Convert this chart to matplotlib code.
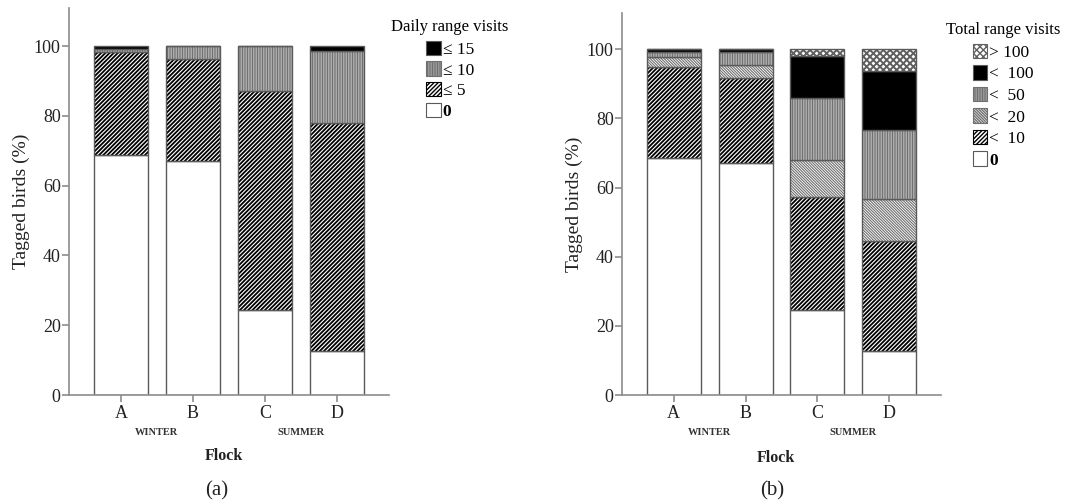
import matplotlib
matplotlib.use("Agg")
import matplotlib.pyplot as plt
from matplotlib.patches import Patch

plt.rcParams['font.family'] = ['Liberation Serif', 'DejaVu Serif']

# === data (percent of tagged birds) ===
flocks = ['A', 'B', 'C', 'D']
seasons = ['WINTER', 'SUMMER']

daily_labels = ['0', '≤ 5', '≤ 10', '≤ 15']
daily_0 = [68.8, 67.1, 24.5, 12.6]
daily_le5 = [29.6, 29.2, 62.6, 65.3]
daily_le10 = [0.8, 3.7, 12.9, 20.7]
daily_le15 = [0.8, 0.0, 0.0, 1.4]

total_labels = ['0', '<  10', '<  20', '<  50', '<  100', '> 100']
total_0 = [68.6, 67.1, 24.5, 12.7]
total_lt10 = [26.4, 24.7, 32.8, 31.9]
total_lt20 = [2.7, 3.8, 10.7, 12.1]
total_lt50 = [1.4, 3.7, 17.9, 20.0]
total_lt100 = [0.9, 0.7, 12.2, 17.0]
total_gt100 = [0.0, 0.0, 1.9, 6.3]

# fill styles: (face, hatch, hatch colour, hatch linewidth)
st_zero = ('white', '', '#666666', 1.0)
st_dense = ('white', '/' * 8, 'black', 1.3)
st_light = ('white', '\\' * 12, '#707070', 0.8)
st_vert = ('white', '|' * 10, '#707070', 0.9)
st_black = ('black', '', 'black', 1.0)
st_cross = ('white', 'x' * 5, '#606060', 1.4)

edge = '#5a5a5a'
axis_col = '#8c8c8c'


def stacked(ax, series, styles):
    x = list(range(len(flocks)))
    bottom = [0.0] * len(flocks)
    for vals, (face, hatch, hcol, hlw) in zip(series, styles):
        with plt.rc_context({'hatch.linewidth': hlw}):
            bars = ax.bar(x, vals, bottom=bottom, width=0.75, color=face,
                          edgecolor=hcol, hatch=hatch, linewidth=0)
        for b in bars:
            if hasattr(b, 'set_hatch_linewidth'):
                b.set_hatch_linewidth(hlw)
        ax.bar(x, vals, bottom=bottom, width=0.75, fill=False,
               edgecolor=edge, linewidth=1.0)
        bottom = [b + v for b, v in zip(bottom, vals)]


def style_axes(ax, ytop):
    ax.set_xlim(-0.72, 3.72)
    ax.set_ylim(0, ytop)
    ax.set_yticks([0, 20, 40, 60, 80, 100])
    ax.set_xticks(range(len(flocks)))
    ax.set_xticklabels(flocks)
    for s in ['top', 'right']:
        ax.spines[s].set_visible(False)
    for s in ['left', 'bottom']:
        ax.spines[s].set_color(axis_col)
        ax.spines[s].set_linewidth(1.2)
    ax.tick_params(axis='both', colors=axis_col, labelcolor='#222222',
                   labelsize=13, length=5, width=1.2)
    ax.tick_params(axis='y', pad=1)
    ax.tick_params(axis='x', pad=2.5)
    ax.set_ylabel('Tagged birds (%)', fontsize=14, color='#222222', labelpad=3)
    ax.text(0.5, -0.097, seasons[0], transform=ax.get_xaxis_transform(),
            ha='center', va='center', fontsize=7.5, fontweight='bold', color='#333333')
    ax.text(2.5, -0.097, seasons[1], transform=ax.get_xaxis_transform(),
            ha='center', va='center', fontsize=7.5, fontweight='bold', color='#333333')


def make_legend(labels, styles, title, xc, ytop, spacing):
    handles = []
    for face, hatch, hcol, hlw in styles:
        handles.append(Patch(facecolor=face, edgecolor=hcol if hatch else edge,
                             hatch=hatch, linewidth=0.8))
    leg = fig.legend(handles[::-1], labels[::-1], title=title, loc='upper center',
                     bbox_to_anchor=(xc, ytop), frameon=False, fontsize=12.5,
                     title_fontsize=12, handlelength=0.85, handleheight=0.9,
                     handletextpad=0.1, labelspacing=spacing, borderpad=0.2)
    leg._legend_box.sep = 4
    leg.get_texts()[-1].set_fontweight('bold')
    return leg


fig = plt.figure(figsize=(10.89, 5.04), dpi=100)
W, H = 1089.0, 504.0

ax1 = fig.add_axes([69 / W, (H - 395) / H, 320 / W, 387 / H])
stacked(ax1, [daily_0, daily_le5, daily_le10, daily_le15],
        [st_zero, st_dense, st_vert, st_black])
style_axes(ax1, 110.9)

ax2 = fig.add_axes([622 / W, (H - 395) / H, 319 / W, 382.3 / H])
stacked(ax2, [total_0, total_lt10, total_lt20, total_lt50, total_lt100, total_gt100],
        [st_zero, st_dense, st_light, st_vert, st_black, st_cross])
style_axes(ax2, 110.6)

make_legend(daily_labels, [st_zero, st_dense, st_vert, st_black],
            'Daily range visits', 450 / W, 1 - 7 / H, 0.2)
make_legend(total_labels, [st_zero, st_dense, st_light, st_vert, st_black, st_cross],
            'Total range visits', 1003 / W, 1 - 10 / H, 0.25)

fig.text(224 / W, 1 - 456 / H, 'Flock', ha='center', va='center',
         fontsize=11.5, fontweight='bold', color='#222222')
fig.text(776 / W, 1 - 458 / H, 'Flock', ha='center', va='center',
         fontsize=11.5, fontweight='bold', color='#222222')
fig.text(217 / W, 1 - 491 / H, '(a)', ha='center', va='center', fontsize=15,
         color='#222222')
fig.text(772 / W, 1 - 491 / H, '(b)', ha='center', va='center', fontsize=15,
         color='#222222')

fig.savefig('out.png', dpi=100)
